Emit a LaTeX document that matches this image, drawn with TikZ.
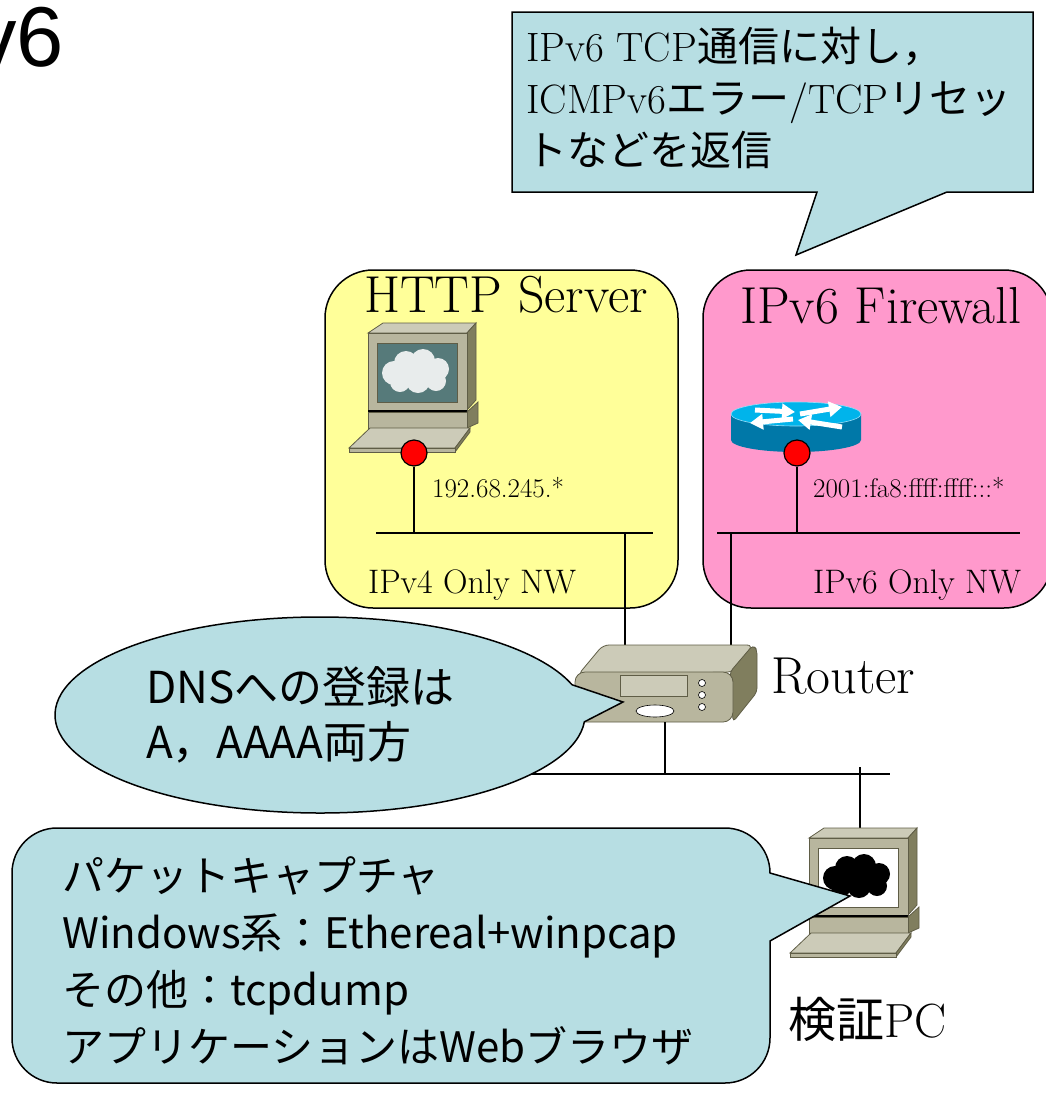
\documentclass[tikz,border=0pt]{standalone}
\usepackage{fontspec}
\newfontfamily\jpfont{Noto Sans CJK JP}
\newfontfamily\arialfont{Liberation Sans}
\usetikzlibrary{arrows.meta}

\definecolor{calloutblue}{RGB}{183,222,227}
\definecolor{srvyellow}{RGB}{255,255,153}
\definecolor{fwpink}{RGB}{255,153,204}
\definecolor{pcfront}{RGB}{184,182,158}
\definecolor{pctopc}{RGB}{204,203,184}
\definecolor{pcside}{RGB}{128,126,94}
\definecolor{pcedge}{RGB}{95,93,70}
\definecolor{screenslate}{RGB}{86,122,122}
\definecolor{cloudlight}{RGB}{232,236,236}
\definecolor{ciscotop}{RGB}{0,180,235}
\definecolor{ciscoside}{RGB}{0,120,168}

\tikzset{
  netbox/.style={draw=black, line width=1.5pt, rounded corners=48pt},
  callout/.style={draw=black, line width=1.5pt, fill=calloutblue},
  wire/.style={draw=black, line width=1.6pt},
  reddot/.style={circle, draw=black, line width=1.2pt, fill=red, minimum size=26pt, inner sep=0pt},
  boxtitle/.style={anchor=base west, inner sep=0pt, font=\fontsize{52}{60}\selectfont},
  addrlabel/.style={anchor=base west, inner sep=0pt, font=\fontsize{27}{32}\selectfont},
  nwlabel/.style={anchor=base west, inner sep=0pt, font=\fontsize{34}{40}\selectfont},
  notetext/.style={anchor=north west, inner sep=0pt, align=left},
  ciscoarrow/.style={white, line width=5pt, -{Triangle[length=13pt, width=15pt]}},
  pics/pcicon/.style 2 args={code={
    % monitor
    \filldraw[fill=pctopc, draw=pcedge, line width=.8pt] (0,0) -- (15,-10) -- (108,-10) -- (99,0) -- cycle;
    \filldraw[fill=pcside, draw=pcedge, line width=.8pt] (99,0) -- (108,-10) -- (108,67) -- (99,77) -- cycle;
    \filldraw[fill=pcfront, draw=pcedge, line width=.8pt] (0,0) rectangle (99,77);
    \filldraw[fill=#1, draw=pcedge, line width=.8pt] (9,10) rectangle (89,69);
    \fill[#2] (26,40) circle (12pt) (38,30) circle (12pt) (55,28) circle (12pt) (70,36) circle (11pt)
      (68,48) circle (10pt) (50,48) circle (12pt) (32,49) circle (10pt) (48,38) circle (14pt);
    % base
    \draw[black, line width=1.5pt] (0,78) -- (99,78);
    \filldraw[fill=pcside, draw=pcedge, line width=.8pt] (99,79) -- (110,69) -- (110,90) -- (99,95) -- cycle;
    \filldraw[fill=pcfront, draw=pcedge, line width=.8pt] (0,79) rectangle (99,95);
    % keyboard
    \filldraw[fill=pctopc, draw=pcedge, line width=.8pt] (2,95) -- (102,95) -- (87,115) -- (-19,115) -- cycle;
    \filldraw[fill=pcside, draw=pcedge, line width=.8pt] (87,115) -- (102,95) -- (102,99) -- (87,119) -- cycle;
    \filldraw[fill=pcfront, draw=pcedge, line width=.8pt] (-19,115) rectangle (87,119);
  }}
}

\begin{document}
\begin{tikzpicture}[x=1pt, y=-1pt]
    \useasboundingbox (0,0) rectangle (1045,1093);

    % Title fragment
    \node[anchor=base east, inner sep=0pt, font=\arialfont\fontsize{85}{90}\selectfont] (title) at (64,66) {v6};

    % Firewall note
    \draw[callout] (512,12) -- (1033,12) -- (1033,192) -- (947,192) -- (796,255) -- (817,192) -- (512,192) -- cycle;
    \node[notetext, font=\fontsize{41}{52}\selectfont] (fwnote) at (526,27)
        {IPv6 TCP{\jpfont 通信に対し，}\\ICMPv6{\jpfont エラー}/TCP{\jpfont リセッ}\\{\jpfont トなどを返信}};

    % Networks
    \draw[netbox, fill=srvyellow] (325,270) rectangle (678,608);
    \draw[netbox, fill=fwpink] (703,270) rectangle (1052,608);
    \node[boxtitle] (srvtitle) at (364,312) {HTTP Server};
    \node[boxtitle] (fwtitle) at (740,323) {IPv6 Firewall};

    \coordinate (bus1L) at (376,533);
    \coordinate (bus1R) at (653,533);
    \coordinate (bus2L) at (717,533);
    \coordinate (bus2R) at (1020,533);
    \draw[wire] (bus1L) -- (bus1R);
    \draw[wire] (bus2L) -- (bus2R);

    % HTTP server
    \pic at (368,333) {pcicon={screenslate}{cloudlight}};
    \node[reddot] (srvdot) at (414,453) {};
    \coordinate (srvtap) at (414,533);
    \draw[wire] (srvdot) -- (srvtap);

    % IPv6 firewall
    \fill[ciscoside] (731,414) -- (731,440) arc[start angle=180, end angle=0, x radius=65, y radius=12] -- (861,414) -- cycle;
    \filldraw[fill=ciscotop, draw=cyan!40, line width=.6pt] (796,414) ellipse [x radius=65pt, y radius=12pt];
    \draw[ciscoarrow] (755,410) -- (795,412);
    \draw[ciscoarrow] (800,414) -- (842,407);
    \draw[ciscoarrow] (793,419) -- (750,423);
    \draw[ciscoarrow] (842,427) -- (798,420);
    \node[reddot] (fwdot) at (797,453) {};
    \coordinate (fwtap) at (797,533);
    \draw[wire] (fwdot) -- (fwtap);

    \node[addrlabel] (srvaddr) at (432,497) {192.68.245.*};
    \node[addrlabel] (fwaddr) at (813,497) {2001:fa8:ffff:ffff:::*};
    \node[nwlabel] (v4nw) at (368,593) {IPv4 Only NW};
    \node[nwlabel] (v6nw) at (813,593) {IPv6 Only NW};

    % Router
    \coordinate (bus1tap) at (625,533);
    \coordinate (bus2tap) at (731,533);
    \coordinate (rtrT1) at (625,645);
    \coordinate (rtrT2) at (731,645);
    \coordinate (rtrB) at (665,722);
    \draw[wire] (bus1tap) -- (rtrT1);
    \draw[wire] (bus2tap) -- (rtrT2);
    \filldraw[fill=pctopc, draw=pcedge, line width=.8pt, rounded corners=6pt] (578,675) -- (603,645) -- (753,645) -- (733,672) -- cycle;
    \filldraw[fill=pcside, draw=pcedge, line width=.8pt, rounded corners=4pt] (730,672) -- (753,645) -- (757,650) -- (757,692) -- (733,722) -- cycle;
    \filldraw[fill=pcfront, draw=pcedge, line width=.8pt, rounded corners=10pt] (575,672) rectangle (733,722);
    \filldraw[fill=pctopc, draw=pcedge, line width=.8pt] (620,675) rectangle (687,696);
    \foreach \y in {683,695,707}
        \filldraw[fill=white, draw=black, line width=.6pt] (702,\y) circle (3.5pt);
    \filldraw[fill=white, draw=black, line width=.6pt] (655,711) ellipse [x radius=19pt, y radius=6pt];
    \node[boxtitle] (rtrlabel) at (771,693) {Router};

    % Test PC
    \coordinate (bus3L) at (480,774);
    \coordinate (bus3R) at (890,774);
    \coordinate (bus3tap) at (665,774);
    \coordinate (pcstub) at (860,767);
    \coordinate (pcport) at (860,828);
    \draw[wire] (bus3L) -- (bus3R);
    \draw[wire] (rtrB) -- (bus3tap);
    \draw[wire] (pcstub) -- (pcport);
    \pic at (809,838) {pcicon={white}{black}};
    \node[anchor=base west, inner sep=0pt, font=\fontsize{48}{54}\selectfont] (pclabel) at (788,1037) {{\jpfont 検証}PC};

    % DNS note
    \draw[callout] (320,715) ++(4:265 and 98) arc[start angle=4, end angle=342, x radius=265, y radius=98] -- (623,702) -- cycle;
    \node[notetext, font=\jpfont\fontsize{44}{55}\selectfont] (dnsnote) at (146,666) {DNSへの登録は\\A，AAAA両方};

    % Capture note
    \draw[callout] (850,896) -- (770,941) -- (770,1038) arc[start angle=0, end angle=90, radius=45]
        -- (57,1083) arc[start angle=90, end angle=180, radius=45]
        -- (12,873) arc[start angle=180, end angle=270, radius=45]
        -- (725,828) arc[start angle=270, end angle=360, radius=45] -- cycle;
    \node[notetext, font=\jpfont\fontsize{42}{57}\selectfont] (capnote) at (62,856)
        {パケットキャプチャ\\Windows系：Ethereal+winpcap\\その他：tcpdump\\アプリケーションはWebブラウザ};
\end{tikzpicture}
\end{document}
